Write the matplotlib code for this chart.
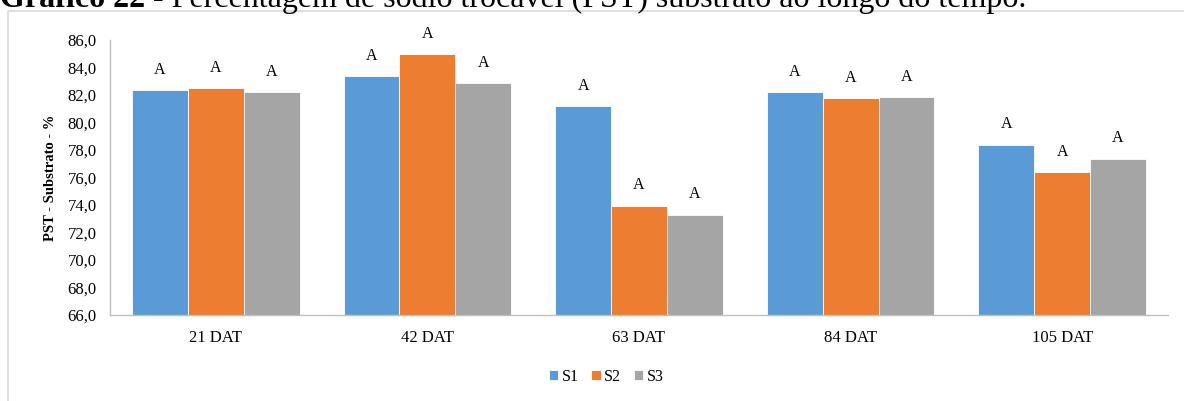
import matplotlib
matplotlib.use("Agg")
import matplotlib.pyplot as plt
from matplotlib.patches import Rectangle
from matplotlib.ticker import FuncFormatter
import numpy as np

# Data
categories = ["21 DAT", "42 DAT", "63 DAT", "84 DAT", "105 DAT"]
series_names = ["S1", "S2", "S3"]
s1 = [82.35, 83.35, 81.2, 82.2, 78.4]
s2 = [82.5, 84.95, 73.95, 81.75, 76.4]
s3 = [82.2, 82.85, 73.3, 81.85, 77.35]
letters = [["A"] * 5, ["A"] * 5, ["A"] * 5]
colors = ["#5B9BD5", "#ED7D31", "#A5A5A5"]
y_ticks = [66, 68, 70, 72, 74, 76, 78, 80, 82, 84, 86]

W, H = 1184, 401
plt.rcParams["font.family"] = ["Liberation Serif", "DejaVu Serif"]
fig = plt.figure(figsize=(W / 100, H / 100), dpi=100)

# Chart frame (only top and left visible within the page crop)
fig.patches.append(Rectangle((8 / W, -0.1), 1.2, 1 - 11 / H + 0.1,
                             transform=fig.transFigure, fill=False,
                             edgecolor="#D9D9D9", linewidth=1.2))

ax = fig.add_axes([110 / W, 1 - 315 / H, (1168 - 110) / W, (315 - 40) / H])

x = np.arange(len(categories))
bw = 0.264
all_series = [s1, s2, s3]
for i, (vals, name, col) in enumerate(zip(all_series, series_names, colors)):
    pos = x + (i - 1) * bw
    ax.bar(pos, np.array(vals) - 66, bottom=66, width=bw, color=col,
           edgecolor="white", linewidth=0.6, label=name)
    for xp, v, lab in zip(pos, vals, letters[i]):
        ax.annotate(lab, (xp, v), xytext=(0, 9), textcoords="offset points",
                    ha="center", va="bottom", fontsize=11.5)

ax.set_xlim(-0.5, len(categories) - 0.5)
ax.set_ylim(66, 86)
ax.set_yticks(y_ticks)
ax.yaxis.set_major_formatter(FuncFormatter(lambda v, p: f"{v:.1f}".replace(".", ",")))
ax.set_xticks(x)
ax.set_xticklabels(categories)
ax.tick_params(axis="both", length=0, colors="#000000")
ax.tick_params(axis="y", pad=9.5, labelsize=12)
ax.tick_params(axis="x", pad=11, labelsize=12)
for side in ["top", "right"]:
    ax.spines[side].set_visible(False)
for side in ["left", "bottom"]:
    ax.spines[side].set_color("#BFBFBF")
    ax.spines[side].set_linewidth(1.0)

fig.text(51 / W, 1 - 178 / H, "PST - Substrato - %", rotation=90,
         ha="center", va="center", fontsize=10.5, fontweight="bold")

fig.legend(loc="center", bbox_to_anchor=(606 / W, 1 - 377 / H), ncol=3,
           frameon=False, fontsize=11.5, handlelength=0.6, handleheight=0.6,
           handletextpad=0.2, columnspacing=0.8)

# Heading above the chart, partially cropped at the top edge
t1 = fig.text(0 / W, 1 - 7 / H, "Gráfico 22", fontsize=23, fontweight="bold",
              ha="left", va="baseline")
fig.canvas.draw()
bb = t1.get_window_extent()
fig.text(bb.x1 / W, 1 - 7 / H, " - Percentagem de sódio trocável (PST) substrato ao longo do tempo.",
         fontsize=23, ha="left", va="baseline")

fig.savefig("out.png", dpi=100)
